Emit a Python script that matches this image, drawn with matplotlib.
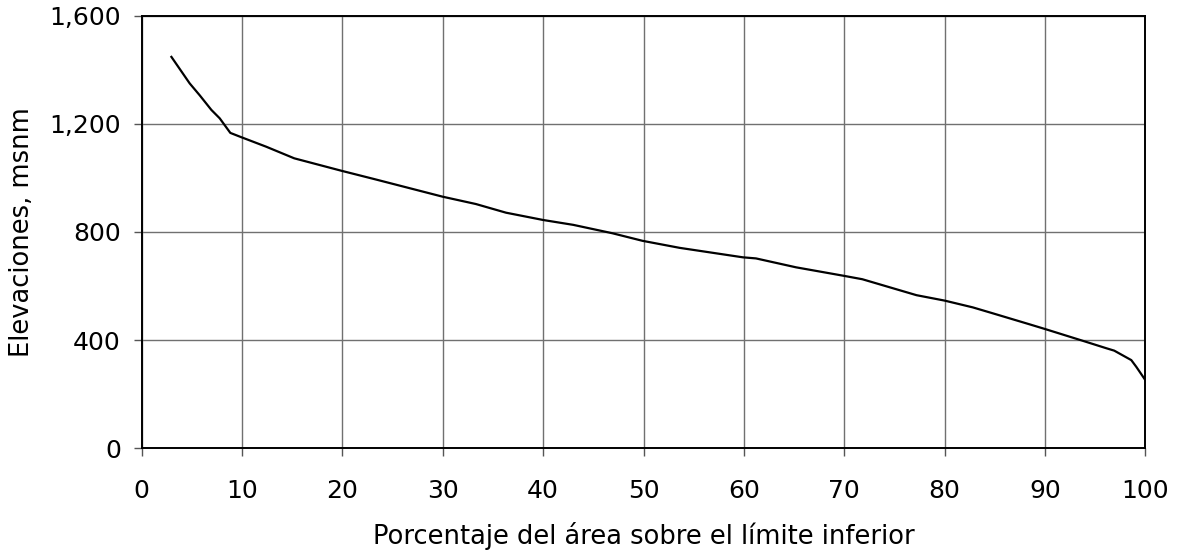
import matplotlib.pyplot as plt
from matplotlib.ticker import FuncFormatter

# Hypsometric curve: percentage of area above vs elevation.
pct_area = [2.96, 4.78, 5.78, 6.94, 7.77, 8.83, 9.93, 12.4, 15.2, 19.9, 23.2,
            30.0, 33.3, 36.3, 40.0, 43.0, 46.9, 49.9, 53.6, 59.9, 61.2, 65.2,
            69.9, 71.8, 77.2, 80.0, 82.8, 84.8, 88.4, 90.0, 93.8, 96.1, 96.9,
            98.6, 99.1, 100.0]
elevation = [1447, 1349, 1305, 1251, 1220, 1166, 1150, 1115, 1072, 1026, 995,
             930, 903, 871, 844, 826, 795, 767, 741, 706, 702, 669,
             638, 625, 566, 546, 521, 499, 459, 441, 397, 370, 361,
             326, 301, 252]

x_ticks = list(range(0, 101, 10))
y_ticks = [0, 400, 800, 1200, 1600]

plt.rcParams['font.family'] = ['DejaVu Sans']

fig = plt.figure(figsize=(11.77, 5.52), dpi=100)
ax = fig.add_axes([0.1204, 0.1879, 0.8527, 0.784])

ax.plot(pct_area, elevation, color='black', linewidth=1.6)

ax.set_xlim(0, 100)
ax.set_ylim(0, 1600)
ax.set_xticks(x_ticks)
ax.set_yticks(y_ticks)
ax.yaxis.set_major_formatter(FuncFormatter(lambda v, p: f'{int(v):,}'))
ax.grid(True, color='#707070', linewidth=1.0)
ax.set_axisbelow(True)

for s in ax.spines.values():
    s.set_color('black')
    s.set_linewidth(1.4)

ax.tick_params(axis='both', labelsize=18, length=6, width=1, color='#555555')
ax.tick_params(axis='y', pad=9)
ax.tick_params(axis='x', pad=16)
ax.set_xlabel('Porcentaje del área sobre el límite inferior', fontsize=18.5, labelpad=14)
ax.set_ylabel('Elevaciones, msnm', fontsize=18.5, labelpad=10)

fig.savefig('out.png', dpi=100, facecolor='white')
